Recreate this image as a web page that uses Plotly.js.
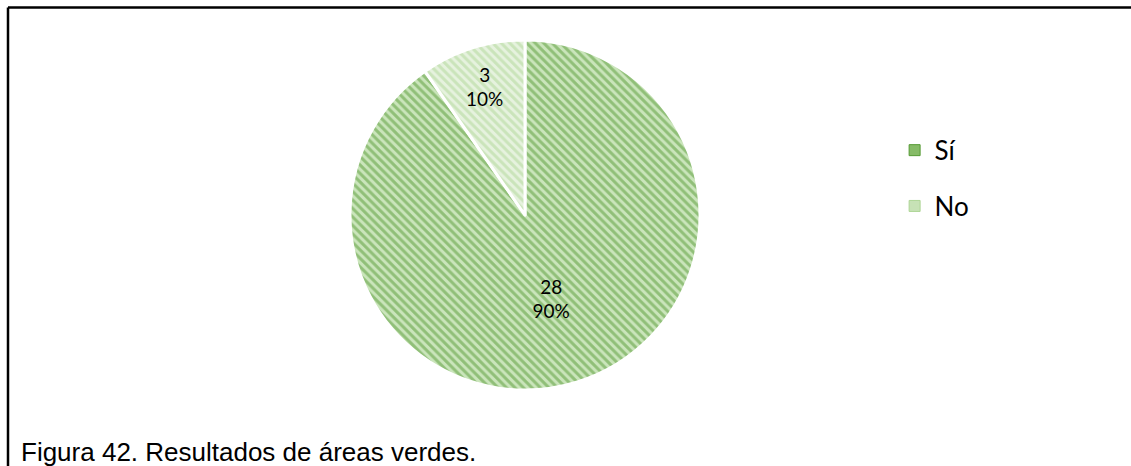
<!DOCTYPE html>
<html>
<head>
<meta charset="utf-8">
<script src="https://cdn.plot.ly/plotly-3.0.1.min.js"></script>
<style>html,body{margin:0;padding:0;background:#fff;overflow:hidden;}#chart{width:1131px;height:466px;}</style>
</head>
<body>
<div id="chart"></div>
<script>
const categories = ["Sí", "No"];
const counts = [28, 3];
const captionText = "Figura 42. Resultados de áreas verdes.";

const fgColors = ["#569a35", "#aed596"];
const bgColors = ["#cae5bb", "#e6f2de"];
const swatchColors = ["#86bb67", "#c7e2b6"];

const pie = {
  type: "pie",
  labels: categories,
  values: counts,
  sort: false,
  direction: "clockwise",
  rotation: 0,
  texttemplate: "%{value}<br>%{percent:.0%}",
  textposition: "inside",
  insidetextorientation: "horizontal",
  textfont: {family: "Lato, 'Open Sans', sans-serif", size: 19, color: "#000"},
  hoverinfo: "label+value+percent",
  marker: {
    colors: bgColors,
    line: {color: "#ffffff", width: 3},
    pattern: {shape: "\\", fgcolor: fgColors, bgcolor: bgColors, size: 6, solidity: 0.5, fillmode: "overlay"}
  },
  domain: {x: [350/1131, 700/1131], y: [(466-390)/466, (466-40)/466]},
  showlegend: false
};

// Legend entries, one per category, as empty scatter traces so the items can be spaced like the original.
const legendTraces = categories.map((c, i) => ({
  type: "scatter",
  mode: "markers",
  x: [null], y: [null],
  name: c,
  legendgroup: "g" + i,
  marker: {symbol: "square", size: 11, color: swatchColors[i], line: {color: fgColors[i], width: 1}},
  hoverinfo: "skip",
  showlegend: true
}));

const L = 8 / 1131, T = 1 - 7.5 / 466;

const layout = {
  width: 1131,
  height: 466,
  margin: {l: 0, r: 0, t: 0, b: 0},
  paper_bgcolor: "#ffffff",
  plot_bgcolor: "#ffffff",
  showlegend: true,
  xaxis: {visible: false, domain: [0, 0.01]},
  yaxis: {visible: false, domain: [0, 0.01]},
  legend: {
    x: 0.791, y: 0.728, xanchor: "left", yanchor: "top",
    font: {family: "Lato, 'Open Sans', sans-serif", size: 26, color: "#000"},
    bgcolor: "rgba(0,0,0,0)",
    traceorder: "grouped",
    tracegroupgap: 19,
    itemwidth: 30
  },
  shapes: [
    {type: "line", xref: "paper", yref: "paper", x0: L, x1: L, y0: 0, y1: T,
     line: {color: "#000", width: 2.5}},
    {type: "line", xref: "paper", yref: "paper", x0: L, x1: 1, y0: T, y1: T,
     line: {color: "#000", width: 2.5}}
  ],
  annotations: [{
    text: captionText, xref: "paper", yref: "paper",
    x: 19/1131, y: -3/466, xanchor: "left", yanchor: "bottom",
    showarrow: false,
    font: {family: "'Liberation Sans', Arial, sans-serif", size: 26, color: "#000"}
  }]
};

Plotly.newPlot("chart", [pie].concat(legendTraces), layout, {displayModeBar: false, staticPlot: true});
</script>
</body>
</html>
